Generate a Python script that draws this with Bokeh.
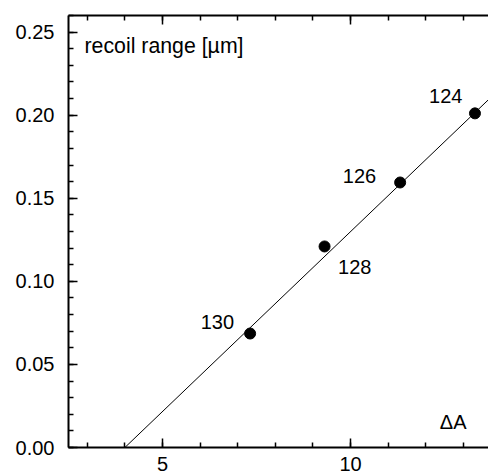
from bokeh.plotting import figure
from bokeh.models import (Range1d, SingleIntervalTicker, LinearAxis, PrintfTickFormatter,
                          CustomJSTickFormatter, ColumnDataSource)
from bokeh.core.properties import value
from bokeh.embed import file_html
from bokeh.resources import INLINE

# ---- data ----
delta_a = [7.33, 9.31, 11.32, 13.31]
recoil_range = [0.0686, 0.1210, 0.1595, 0.2011]
mass_labels = ["130", "128", "126", "124"]
fit_x = [4.0, 14.0]
fit_y = [0.0, 0.2165]
x_start, x_end = 2.5, 13.67
y_start, y_end = 0.0, 0.26

# ---- label styling (pixel offsets relative to each point) ----
lab_align = ["right", "left", "right", "right"]
lab_dx = [-16, 13.5, -24, -12.5]
lab_dy = [-12, 20.5, -6.5, -17]

FONT = "Liberation Sans"
FS = "20px"

p = figure(width=488, height=483,
           x_range=Range1d(x_start, x_end), y_range=Range1d(y_start, y_end),
           output_backend="svg", toolbar_location=None,
           min_border_left=68, min_border_right=0, min_border_top=15, min_border_bottom=36)
p.grid.visible = False
p.outline_line_color = None
p.background_fill_color = "white"
p.border_fill_color = "white"

xticker = SingleIntervalTicker(interval=5, num_minor_ticks=5)
yticker = SingleIntervalTicker(interval=0.05, num_minor_ticks=5)

def style_axis(ax):
    ax.axis_line_width = 2
    ax.axis_line_color = "black"
    ax.major_tick_in = 9
    ax.major_tick_out = 0
    ax.minor_tick_in = 5
    ax.minor_tick_out = 0
    ax.major_tick_line_width = 1.5
    ax.minor_tick_line_width = 1.5
    ax.major_tick_line_color = "black"
    ax.minor_tick_line_color = "black"
    ax.major_label_text_font = FONT
    ax.major_label_text_font_size = FS
    ax.major_label_text_color = "black"

xa = p.xaxis[0]
xa.ticker = xticker
style_axis(xa)
xa.major_label_standoff = 9

ya = p.yaxis[0]
ya.ticker = yticker
ya.formatter = PrintfTickFormatter(format="%.2f")
style_axis(ya)
ya.major_label_standoff = 14

top = LinearAxis(ticker=xticker, formatter=CustomJSTickFormatter(code="return ''"))
style_axis(top)
top.major_label_text_font_size = "1px"
top.major_label_standoff = 0
p.add_layout(top, "above")

p.line(fit_x, fit_y, line_width=1, line_color="black")
p.scatter(delta_a, recoil_range, size=11, fill_color="black", line_color="black")

src = ColumnDataSource(dict(x=delta_a, y=recoil_range, t=mass_labels,
                            al=lab_align, dx=lab_dx, dy=lab_dy))
p.text(x="x", y="y", text="t", source=src, text_align="al", x_offset="dx", y_offset="dy",
       text_baseline="alphabetic", text_font=value(FONT), text_font_size=FS, text_color="black")

p.text(x=[x_start], y=[y_end], text=["recoil range [µm]"], x_offset=16, y_offset=30.5,
       text_align="left", text_baseline="alphabetic",
       text_font=value(FONT), text_font_size="21.3px", text_color="black")
p.text(x=[x_end], y=[y_start], text=["ΔA"], x_offset=-22, y_offset=-26,
       text_align="right", text_baseline="alphabetic",
       text_font=value(FONT), text_font_size=FS, text_color="black")

open("out.html", "w").write(file_html(p, INLINE))
